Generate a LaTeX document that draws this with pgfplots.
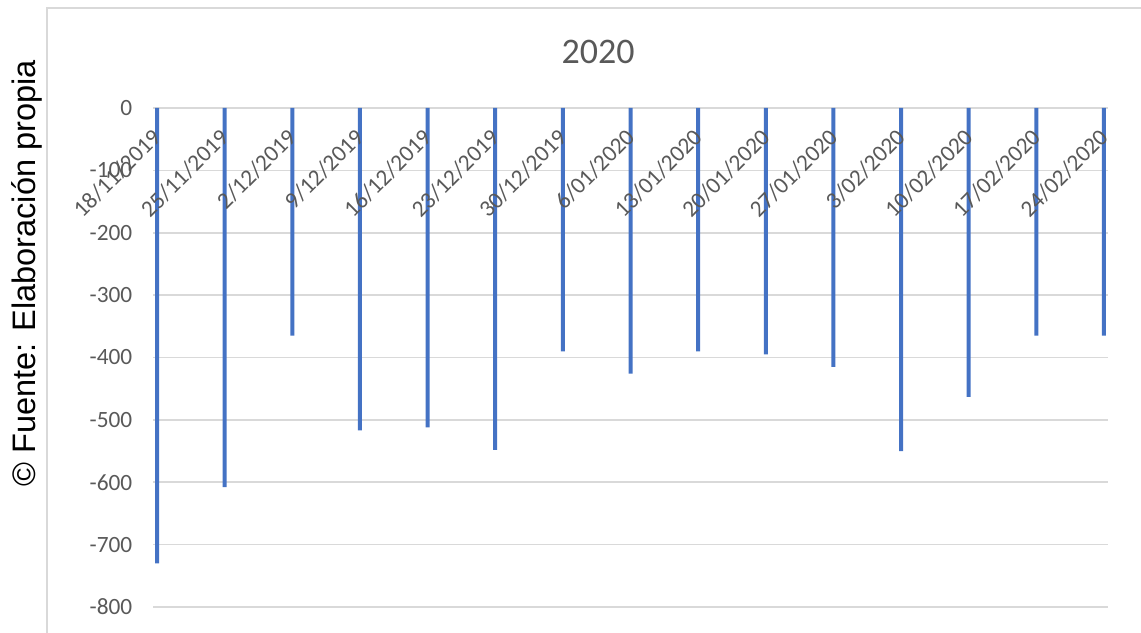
\documentclass[border=0pt]{standalone}
\usepackage{pgfplots}
\pgfplotsset{compat=1.18}
\usepackage{fontspec}
\setmainfont{Carlito}
\newfontfamily\arialfont{Liberation Sans}
\definecolor{barblue}{HTML}{4472C4}
\definecolor{txtgray}{HTML}{595959}
\definecolor{gridgray}{HTML}{D9D9D9}
\pgfplotsset{
  myframe/.style={
    at={(114.75pt,393pt)}, anchor=north west,
    scale only axis, width=716.25pt, height=374.25pt,
    xmin=-0.06, xmax=14.06,
    ymin=-800, ymax=0,
    axis line style={draw=none},
    major tick length=0pt,
    clip=false,
  }
}
\begin{document}
\begin{tikzpicture}
\path[use as bounding box] (0pt,0pt) rectangle (855.75pt,474pt);
\draw[gridgray, line width=1.2pt] (35.25pt,-6pt) -- (35.25pt,468pt) -- (860pt,468pt);
\node[txtgray, anchor=base, inner sep=0pt] at (448.5pt,426pt) {\fontsize{27}{32}\selectfont 2020};
\node[rotate=90, anchor=base, inner sep=0pt] at (27pt,268.9pt) {\arialfont\fontsize{24.4}{29}\selectfont \textcopyright{} Fuente: Elaboración propia};
\begin{axis}[
  myframe,
  ytick={-800,-700,-600,-500,-400,-300,-200,-100,0},
  yticklabels={-800,-700,-600,-500,-400,-300,-200,-100,0},
  yticklabel style={anchor=east, font=\fontsize{17.5}{20}\selectfont, text=txtgray},
  yticklabel shift=12pt,
  ymajorgrids, grid style={gridgray, line width=1.3pt},
  xtick={0,...,14},
  xticklabels={},
]
\addplot[ybar, bar width=3pt, bar shift=0pt, fill=barblue, draw=none] coordinates {
(0,-730) (1,-608) (2,-365) (3,-517) (4,-512) (5,-548) (6,-390) (7,-426) (8,-390) (9,-395) (10,-415) (11,-550) (12,-463) (13,-365) (14,-365)
};
\end{axis}
\begin{axis}[
  myframe,
  ytick=\empty,
  xtick={0,...,14},
  xticklabels={18/11/2019,25/11/2019,2/12/2019,9/12/2019,16/12/2019,23/12/2019,30/12/2019,6/01/2020,13/01/2020,20/01/2020,27/01/2020,3/02/2020,10/02/2020,17/02/2020,24/02/2020},
  xticklabel pos=upper,
  xticklabel style={rotate=45, anchor=east, inner sep=0pt, font=\fontsize{17.5}{20}\selectfont, text=txtgray},
  xticklabel shift=-19pt,
]
\end{axis}
\end{tikzpicture}
\end{document}
